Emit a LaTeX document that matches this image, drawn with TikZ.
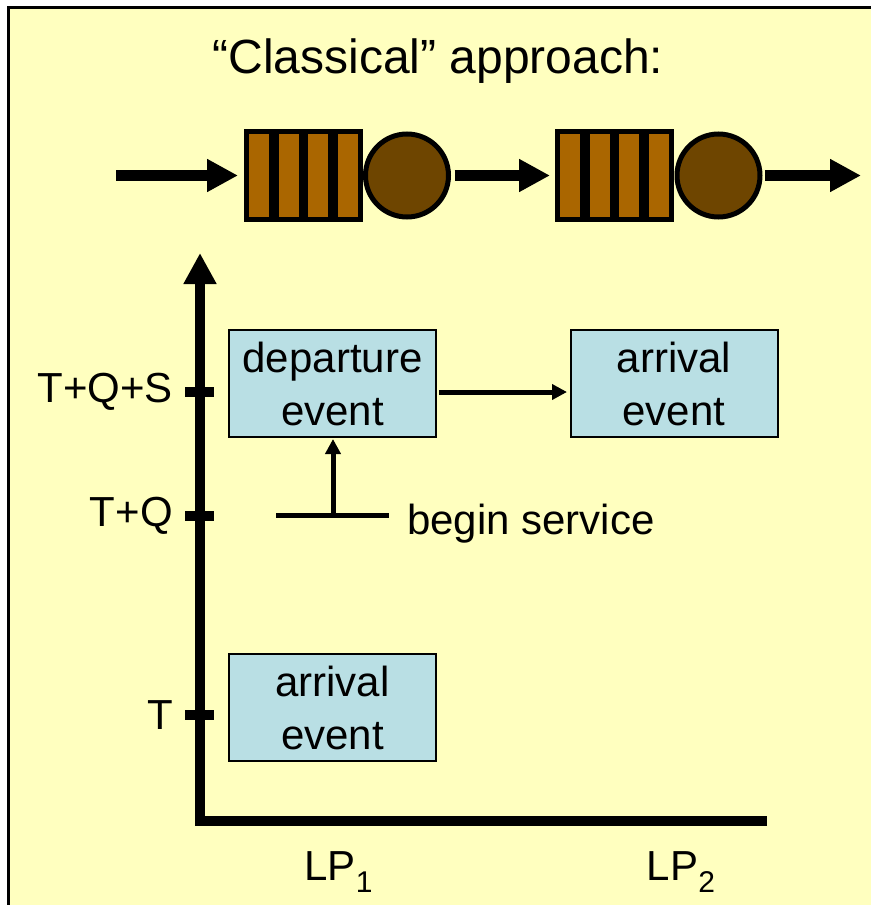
\documentclass[tikz,border=0pt]{standalone}
\usepackage{fontspec}
\setmainfont{Liberation Sans}
\usetikzlibrary{arrows.meta}

\definecolor{slidebg}{RGB}{255,255,191}
\definecolor{qbar}{RGB}{170,102,0}
\definecolor{server}{RGB}{110,69,0}
\definecolor{evbox}{RGB}{185,223,228}

\begin{document}
\begin{tikzpicture}[x=1pt, y=-1pt,
		every node/.style={font=\fontsize{42}{53}\selectfont},
		event/.style={rectangle, draw=black, line width=2pt, fill=evbox, minimum width=207pt, minimum height=107pt, align=center, inner sep=0pt},
		queue/.style={rectangle, fill=black, minimum width=119pt, minimum height=93pt, inner sep=0pt, outer sep=0pt},
		srv/.style={circle, draw=black, line width=5pt, fill=server, minimum size=83pt, inner sep=0pt, outer sep=0pt},
		flow/.style={line width=11pt, -{Triangle[length=31pt,width=31pt]}},
		link/.style={line width=5pt},
		linkarrow/.style={link, -{Triangle[length=15pt,width=15pt]}},
		tick/.style={line width=10pt}]
		\useasboundingbox (0,0) rectangle (871,905);
		\fill[slidebg] (8.5,7.3) rectangle (871,905);
		\draw[line width=3pt] (8.5,905) -- (8.5,7.3) -- (871,7.3);
		\node[anchor=base, font=\fontsize{48}{58}\selectfont] (title) at (438,73) {“Classical” approach:};
		\def\qy{175.5}
		\node[queue] (q1) at (303.5,\qy) {};
		\node[srv] (s1) at (407,\qy) {};
		\node[queue] (q2) at (614.5,\qy) {};
		\node[srv] (s2) at (718.5,\qy) {};
		\foreach \q in {q1,q2}
			\foreach \i in {0,...,3}
				\fill[qbar] ([xshift=5pt+\i*29.7pt, yshift=-5pt]\q.north west) rectangle ++(20,83);
		\coordinate (src) at (116,\qy);
		\coordinate (sink) at (861,\qy);
		\draw[flow, shorten >=6pt] (src) -- (q1);
		\draw[flow, shorten <=6pt, shorten >=5pt] (s1) -- (q2);
		\draw[flow, shorten <=5pt] (s2) -- (sink);
		\coordinate (origin) at (200,821);
		\coordinate (ytop) at (200,253);
		\coordinate (xend) at (767,821);
		\draw[line width=9.5pt, -{Triangle[length=31pt,width=31pt]}] (xend) -- (origin) -- (ytop);
		\foreach \t/\lab/\nm in {392/T+Q+S/tqs, 516/T+Q/tq, 715/T/t}{
			\draw[tick] (185,\t) -- (214,\t);
			\node[anchor=east, inner sep=0pt] (\nm) at (173,\t) {\lab};
		}
		\node[event] (dep) at (332.5,383.5) {departure\\event};
		\node[event] (arr2) at (674,383.5) {arrival\\event};
		\node[event] (arr1) at (332.5,707.5) {arrival\\event};
		\draw[linkarrow, shorten <=2pt, shorten >=2.5pt] ([yshift=-8.5pt]dep.east) -- ([yshift=-8.5pt]arr2.west);
		\coordinate (bsl) at (276,515);
		\coordinate (bsr) at (389,515);
		\coordinate (bs) at (333,515);
		\draw[link] (bsl) -- (bsr);
		\draw[linkarrow, shorten >=1pt] (bs) -- (bs |- dep.south);
		\node[anchor=base west, inner sep=0pt] (bstext) at (407,534) {begin service};
		\node[anchor=base] (lp1) at (338.5,880) {LP\raisebox{-12pt}{\fontsize{30}{36}\selectfont 1}};
		\node[anchor=base] (lp2) at (681,880) {LP\raisebox{-12pt}{\fontsize{30}{36}\selectfont 2}};
	\end{tikzpicture}
\end{document}
